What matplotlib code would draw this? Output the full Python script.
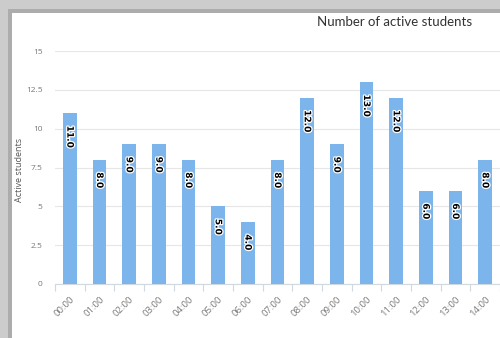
import matplotlib
matplotlib.use("Agg")
import matplotlib.pyplot as plt
import matplotlib.patheffects as pe
from matplotlib.patches import Rectangle

hours = ["00:00", "01:00", "02:00", "03:00", "04:00", "05:00", "06:00", "07:00",
         "08:00", "09:00", "10:00", "11:00", "12:00", "13:00", "14:00"]
students = [11, 8, 9, 9, 8, 5, 4, 8, 12, 9, 13, 12, 6, 6, 8]
yticks = [0, 2.5, 5, 7.5, 10, 12.5, 15]
ytick_labels = ["0", "2.5", "5", "7.5", "10", "12.5", "15"]

plt.rcParams['font.family'] = ['Open Sans', 'DejaVu Sans']

fig = plt.figure(figsize=(5, 3.38), dpi=100)
fig.patch.set_facecolor("white")

# screenshot shadow frame
fig.patches.append(Rectangle((0, 1 - 13 / 338), 1, 13 / 338, transform=fig.transFigure,
                             facecolor="#cccccc", edgecolor="none", zorder=0))
fig.patches.append(Rectangle((12 / 500, 1 - 13 / 338), 1, 4 / 338, transform=fig.transFigure,
                             facecolor="#acacac", edgecolor="none", zorder=0))
fig.patches.append(Rectangle((0, 0), 12 / 500, 1, transform=fig.transFigure,
                             facecolor="#cccccc", edgecolor="none", zorder=0))
fig.patches.append(Rectangle((8 / 500, 0), 4 / 500, 1 - 9 / 338, transform=fig.transFigure,
                             facecolor="#acacac", edgecolor="none", zorder=0))

ax = fig.add_axes([55 / 500, 54 / 338, 1 - 55 / 500, 233 / 338])
x = list(range(len(hours)))
bars = ax.bar(x, students, width=0.47, color="#7cb5ec", zorder=3)

for xi, v in zip(x, students):
    t = ax.annotate(f"{v:.1f}", (xi, v), xytext=(0, -9), textcoords="offset points",
                    rotation=-90, ha="center", va="top", fontsize=6.5,
                    fontweight="bold", color="black", zorder=5, family="DejaVu Sans")
    t.set_path_effects([pe.withStroke(linewidth=1.8, foreground="white")])

ax.set_xlim(-0.5, 14.24)
ax.set_ylim(0, 15)
ax.set_yticks(yticks)
ax.set_yticklabels(ytick_labels)
ax.set_xticks(x)
ax.set_xticklabels(hours, rotation=45, ha="right", rotation_mode="anchor")
ax.set_xticks([i - 0.5 for i in range(len(hours) + 1)], minor=True)
ax.tick_params(axis="x", which="major", length=0, pad=8, labelsize=6.8, labelcolor="#7a7a7a")
ax.tick_params(axis="x", which="minor", length=5, color="#d0d8e0", width=0.8)
ax.tick_params(axis="y", length=0, pad=9, labelsize=6, labelcolor="#777777")
ax.grid(axis="y", color="#e6e6e6", linewidth=0.8, zorder=0)
for s in ["top", "right", "left"]:
    ax.spines[s].set_visible(False)
ax.spines["bottom"].set_color("#d0d8e0")
ax.spines["bottom"].set_linewidth(0.8)

fig.text(20 / 500, 1 - 170 / 338, "Active students", rotation=90, ha="center", va="center",
         fontsize=6.5, color="#555555")
fig.text(395 / 500, 1 - 22 / 338, "Number of active students", ha="center", va="center",
         fontsize=9.5, color="#333333", family=["Lato", "DejaVu Sans"])

fig.savefig("out.png", dpi=100)
